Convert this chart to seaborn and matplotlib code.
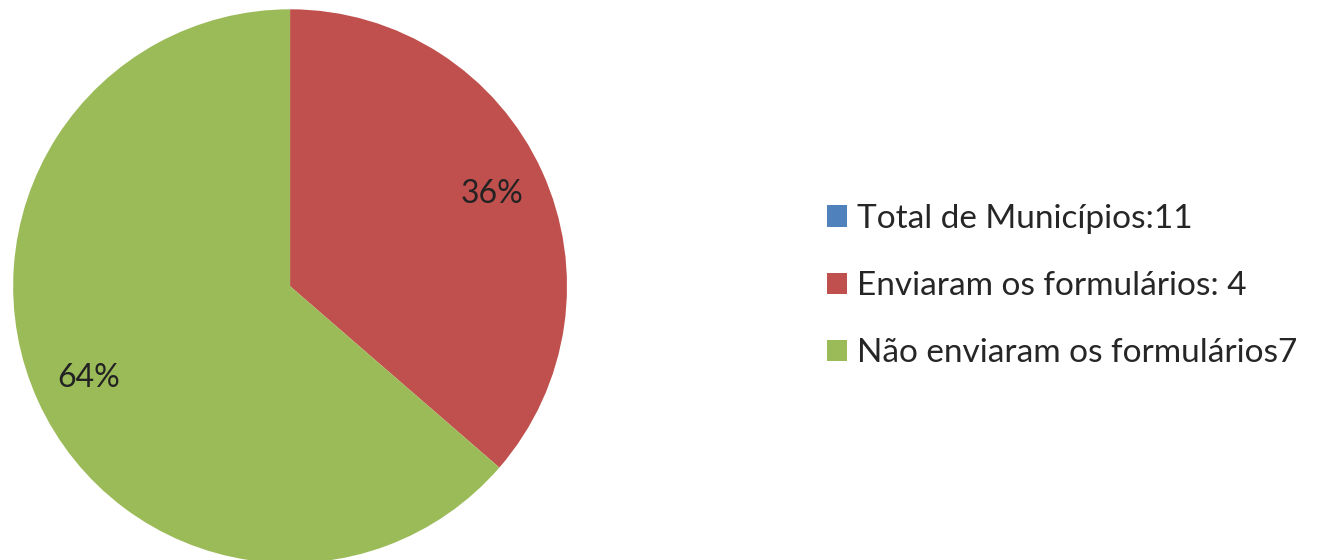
import matplotlib
matplotlib.use('Agg')
import matplotlib.pyplot as plt
import seaborn as sns

# data
labels = ['Total de Municípios:11', 'Enviaram os formulários: 4', 'Não enviaram os formulários7']
values = [0, 4, 7]
colors = ['#4F81BD', '#C0504D', '#9BBB59']

sns.set_style("white")
plt.rcParams['font.family'] = ['Lato', 'DejaVu Sans']

fig = plt.figure(figsize=(13.17, 5.6), dpi=100)
ax = fig.add_axes([0.0099, -0.0056, 0.4207, 0.989])

def pct(p):
    return '' if p < 0.5 else '%d%%' % round(p)

wedges, texts, autotexts = ax.pie(values, colors=colors, startangle=90, counterclock=False,
                                  autopct=pct, pctdistance=0.8,
                                  wedgeprops={'linewidth': 0},
                                  textprops={'fontsize': 23, 'color': '#222222'})
ax.set_xlim(-1, 1)
ax.set_ylim(-1, 1)
ax.set_aspect('equal')

leg = fig.legend(wedges, labels, loc='center left', bbox_to_anchor=(0.628, 0.489),
                 frameon=False, fontsize=24, handlelength=0.6, handleheight=0.6,
                 handletextpad=0.3, labelspacing=1.12, borderpad=0, borderaxespad=0)

fig.savefig('out.png', dpi=100)
